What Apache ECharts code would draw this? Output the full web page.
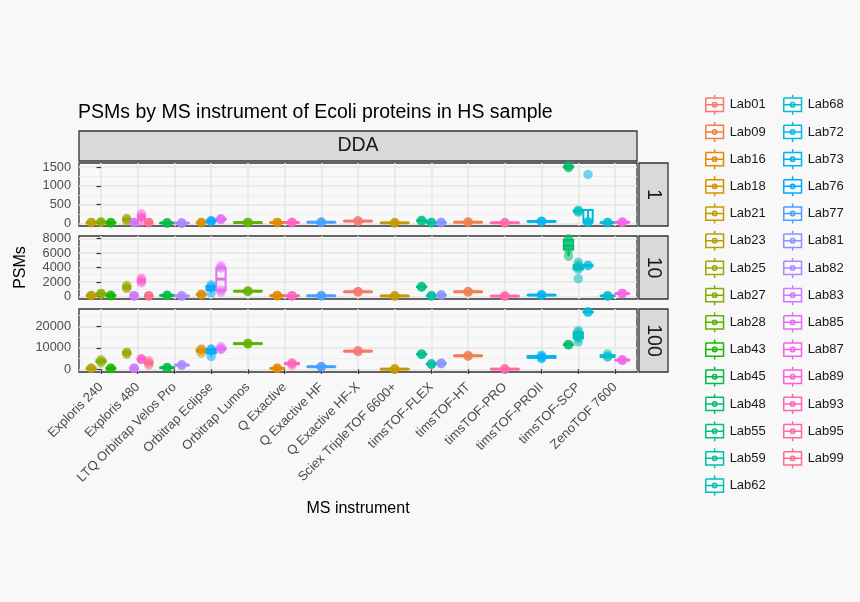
<!DOCTYPE html>
<html>
<head>
<meta charset="utf-8">
<script src="https://cdn.jsdelivr.net/npm/echarts@6/dist/echarts.min.js"></script>
<style>
    html, body {margin:0;padding:0;background:#f8f8f8;}
    #chart {width:860px;height:602px;}
</style>
</head>
<body>
<div id="chart"></div>
<script>
    // instruments on the x axis (discrete)
    var instruments = ['Exploris 240', 'Exploris 480', 'LTQ Orbitrap Velos Pro', 'Orbitrap Eclipse', 'Orbitrap Lumos',
        'Q Exactive', 'Q Exactive HF', 'Q Exactive HF-X', 'Sciex TripleTOF 6600+', 'timsTOF-FLEX',
        'timsTOF-HT', 'timsTOF-PRO', 'timsTOF-PROII', 'timsTOF-SCP', 'ZenoTOF 7600'];

    var labs = ['Lab01', 'Lab09', 'Lab16', 'Lab18', 'Lab21', 'Lab23', 'Lab25', 'Lab27', 'Lab28', 'Lab43',
        'Lab45', 'Lab48', 'Lab55', 'Lab59', 'Lab62', 'Lab68', 'Lab72', 'Lab73', 'Lab76', 'Lab77',
        'Lab81', 'Lab82', 'Lab83', 'Lab85', 'Lab87', 'Lab89', 'Lab93', 'Lab95', 'Lab99'];

    // index into instruments, one per lab
    var labInstrument = [7, 10, 5, 3, 8, 0, 1, 0, 4, 0,
        2, 13, 9, 9, 13, 14, 13, 12, 3, 6,
        9, 2, 1, 3, 14, 1, 5, 11, 1];

    // replicate PSM counts per lab, facet "1"
    var psms1 = [[55, 60, 65], [28, 30, 32], [18, 22, 25], [15, 20, 25], [10, 12, 15], [15, 20, 25], [60, 100, 130], [25, 30, 35], [18, 20, 22], [10, 15, 20],
        [8, 10, 12], [1480, 1500, 1530], [60, 70, 80], [15, 20, 25], [300, 330, 350], [15, 20, 25], [20, 30, 40, 1300], [45, 50, 55], [50, 60, 70], [25, 30, 35],
        [15, 20, 25], [5, 8, 10], [15, 20, 25], [100, 110, 120], [25, 30, 35], [30, 170, 250], [18, 22, 26], [10, 15, 20], [15, 20, 25]];

    // facet "10"
    var psms10 = [[640, 650, 660], [640, 650, 660], [110, 120, 130], [250, 270, 290], [70, 80, 90], [120, 140, 150], [1100, 1300, 1500], [330, 370, 400], [720, 730, 740], [120, 140, 160],
        [140, 150, 160], [5560, 6500, 7000, 7800, 7950], [1280, 1330, 1380], [90, 100, 110], [2450, 3750, 4000, 4300, 4700], [70, 80, 90], [4250, 4300], [190, 200, 210], [500, 1300, 1600], [90, 100, 110],
        [180, 200, 220], [70, 80, 90], [80, 100, 120], [600, 900, 3900, 4200], [390, 410, 430], [1900, 2200, 2500], [80, 100, 120], [50, 60, 70], [80, 100, 120]];

    // facet "100"
    var psms100 = [[8200, 8500, 8600], [6100, 6300, 6400], [400, 450, 500], [7500, 9000, 9500], [80, 100, 120], [400, 450, 500], [7000, 7700, 8000], [3000, 3800, 4500], [11800, 12000, 12100], [420, 450, 480],
        [700, 750, 800], [11400, 11500, 11600], [6950, 7070, 7150], [2350, 2450, 2550], [12800, 14500, 15500, 17200, 18000], [5800, 6000, 7200], [26600, 26800], [5000, 5500, 6000, 6600], [6000, 9000, 9500], [1150, 1200, 1250],
        [2650, 2750, 2850], [1900, 2000, 2100], [420, 460, 500], [9300, 9500, 10500], [4200, 4300, 4400], [4600, 4750, 4900], [2000, 2750, 3000], [80, 100, 120], [2000, 3000, 4000]];

    var facetNames = ['1', '10', '100'];
    var yMajor = [[0, 500, 1000, 1500], [0, 2000, 4000, 6000, 8000], [0, 10000, 20000]];
    var yMinor = [[250, 750, 1250], [1000, 3000, 5000, 7000], [5000, 15000, 25000]];

    var facetData = [psms1, psms10, psms100];

    // ggplot-like hue palette
    function hcl2hex(h, c, l) {
        var hr = h * Math.PI / 180;
        var U = c * Math.cos(hr), V = c * Math.sin(hr);
        var Xn = 95.047, Yn = 100.0, Zn = 108.883;
        var un = 4 * Xn / (Xn + 15 * Yn + 3 * Zn), vn = 9 * Yn / (Xn + 15 * Yn + 3 * Zn);
        var Y = l > 8 ? Yn * Math.pow((l + 16) / 116, 3) : Yn * l / 903.3;
        var u = U / (13 * l) + un, v = V / (13 * l) + vn;
        var X = 9 * Y * u / (4 * v);
        var Z = (9 * Y / v - X - 15 * Y) / 3;
        X /= 100; Y /= 100; Z /= 100;
        var rgb = [3.240479 * X - 1.537150 * Y - 0.498535 * Z,
            -0.969256 * X + 1.875992 * Y + 0.041556 * Z,
            0.055648 * X - 0.204043 * Y + 1.057311 * Z];
        return '#' + rgb.map(function (t) {
            t = t <= 0.0031308 ? 12.92 * t : 1.055 * Math.pow(t, 1 / 2.4) - 0.055;
            t = Math.round(Math.max(0, Math.min(1, t)) * 255);
            return (t < 16 ? '0' : '') + t.toString(16);
        }).join('');
    }
    var colors = labs.map(function (d, i) {
        return hcl2hex(15 + i * 360 / labs.length, 100, 65);
    });

    // dodge positions inside each instrument
    var dodgeWidth = 0.8;
    var xPos = [], slotW = [];
    instruments.forEach(function (name, ii) {
        var members = [];
        labInstrument.forEach(function (inst, li) { if (inst === ii) members.push(li); });
        var n = members.length;
        members.forEach(function (li, k) {
            slotW[li] = dodgeWidth / n;
            xPos[li] = ii - dodgeWidth / 2 + (k + 0.5) * dodgeWidth / n;
        });
    });

    function quantile(s, p) {
        var h = (s.length - 1) * p, lo = Math.floor(h);
        if (lo + 1 >= s.length) return s[lo];
        return s[lo] + (h - lo) * (s[lo + 1] - s[lo]);
    }
    function boxStats(vals) {
        var s = vals.slice().sort(function (a, b) { return a - b; });
        var q1 = quantile(s, 0.25), med = quantile(s, 0.5), q3 = quantile(s, 0.75);
        var iqr = q3 - q1;
        var lo = s.filter(function (v) { return v >= q1 - 1.5 * iqr; })[0];
        var hiArr = s.filter(function (v) { return v <= q3 + 1.5 * iqr; });
        return [lo, q1, med, q3, hiArr[hiArr.length - 1]];
    }

    // layout
    var plotLeft = 79, plotRight = 637;
    var gridTop = [163, 236, 309], gridH = 63;
    var font = 'Liberation Sans';

    var grids = [], xAxes = [], yAxes = [], series = [];
    var xTickVals = instruments.map(function (d, i) { return i; });

    facetNames.forEach(function (fname, f) {
        grids.push({left: plotLeft, right: 860 - plotRight, top: gridTop[f], height: gridH,
            show: true, borderColor: '#333333', borderWidth: 1.3, backgroundColor: 'transparent'});

        var last = f === facetNames.length - 1;
        xAxes.push({
            type: 'value', gridIndex: f, min: -0.6, max: instruments.length - 0.4,
            axisLine: {show: false},
            axisTick: {show: last, length: 4.5, customValues: xTickVals, lineStyle: {color: '#333333', width: 1.2}},
            axisLabel: {show: last, customValues: xTickVals, rotate: 45, margin: 13,
                fontSize: 13, fontFamily: font, color: '#4d4d4d',
                formatter: function (v) { return instruments[Math.round(v)]; }},
            splitLine: {show: true, lineStyle: {color: '#e6e6e6', width: 1.6}},
            name: last ? 'MS instrument' : '', nameLocation: 'middle', nameGap: 129,
            nameTextStyle: {fontSize: 16, fontFamily: font, color: '#000'}
        });

        var all = [];
        facetData[f].forEach(function (arr) { all = all.concat(arr); });
        var dmin = Math.min.apply(null, all), dmax = Math.max.apply(null, all);
        var pad = (dmax - dmin) * 0.05;

        yAxes.push({
            type: 'value', gridIndex: f, min: dmin - pad, max: dmax + pad,
            axisLine: {show: false},
            axisTick: {show: true, length: 4.5, customValues: yMajor[f], lineStyle: {color: '#333333', width: 1.2}},
            axisLabel: {customValues: yMajor[f], margin: 8, fontSize: 12.8, fontFamily: font,
                color: '#4d4d4d', formatter: function (v) { return String(v); }},
            splitLine: {show: true, lineStyle: {color: '#e6e6e6', width: 1.6}},
            name: f === 1 ? 'PSMs' : '', nameLocation: 'middle', nameGap: 50, nameRotate: 90,
            nameTextStyle: {fontSize: 16, fontFamily: font, color: '#000'}
        });
        yAxes.push({
            type: 'value', gridIndex: f, min: dmin - pad, max: dmax + pad, position: 'left',
            axisLine: {show: false},
            axisTick: {show: false, customValues: yMinor[f]},
            axisLabel: {show: false},
            splitLine: {show: true, lineStyle: {color: '#ededed', width: 0.9}}
        });

        labs.forEach(function (lab, li) {
            var vals = facetData[f][li];
            var st = boxStats(vals);
            var col = colors[li];
            series.push({
                name: lab, type: 'custom', xAxisIndex: f, yAxisIndex: 2 * f, z: 2,
                encode: {x: 0, y: [1, 2, 3, 4, 5]},
                data: [[xPos[li]].concat(st).concat([slotW[li] * 0.95])],
                itemStyle: {color: col},
                renderItem: function (params, api) {
                    var x = api.value(0);
                    var w = api.size([api.value(6), 0])[0];
                    var pLo = api.coord([x, api.value(1)]);
                    var pQ1 = api.coord([x, api.value(2)]);
                    var pMed = api.coord([x, api.value(3)]);
                    var pQ3 = api.coord([x, api.value(4)]);
                    var pHi = api.coord([x, api.value(5)]);
                    var ls = {stroke: col, lineWidth: 2, fill: 'none'};
                    return {type: 'group', children: [
                        {type: 'line', shape: {x1: pLo[0], y1: pLo[1], x2: pQ1[0], y2: pQ1[1]}, style: ls},
                        {type: 'line', shape: {x1: pQ3[0], y1: pQ3[1], x2: pHi[0], y2: pHi[1]}, style: ls},
                        {type: 'rect', shape: {x: pQ1[0] - w / 2, y: pQ3[1], width: w, height: pQ1[1] - pQ3[1]}, style: ls},
                        {type: 'line', shape: {x1: pMed[0] - w / 2, y1: pMed[1], x2: pMed[0] + w / 2, y2: pMed[1]},
                            style: {stroke: col, lineWidth: 3}}
                    ]};
                }
            });
            series.push({
                name: lab, type: 'scatter', xAxisIndex: f, yAxisIndex: 2 * f, z: 3,
                symbolSize: 9.5,
                itemStyle: {color: col, opacity: 0.55},
                data: vals.map(function (v) { return [xPos[li], v]; })
            });
        });
    });

    // legend key: box with whiskers, median and point
    var boxIcon = 'path://M10,0L10,3M2,3L18,3L18,15L2,15L2,3M2,9L18,9M10,15L10,18' +
        'M12,9A2,2,0,1,1,8,9A2,2,0,1,1,12,9';
    function legendItems(from, to) {
        return labs.slice(from, to).map(function (lab, k) {
            return {name: lab, icon: boxIcon,
                itemStyle: {color: 'rgba(0,0,0,0)', borderColor: colors[from + k], borderWidth: 1.5, opacity: 1}};
        });
    }
    var legendBase = {orient: 'vertical', top: 89, itemWidth: 20, itemHeight: 20, itemGap: 5.7,
        selectedMode: false,
        textStyle: {fontSize: 13, fontFamily: font, color: '#1a1a1a'}};

    // facet strips
    var stripStyle = {fill: '#d9d9d9', stroke: '#333333', lineWidth: 1.3};
    var stripText = {fontSize: 19.5, fontFamily: font, fill: '#1a1a1a'};
    var graphics = [
        {type: 'rect', shape: {x: plotLeft, y: 131, width: plotRight - plotLeft, height: 30}, style: stripStyle},
        {type: 'text', x: (plotLeft + plotRight) / 2, y: 146,
            style: Object.assign({text: 'DDA', align: 'center', verticalAlign: 'middle'}, stripText)}
    ];
    facetNames.forEach(function (fname, f) {
        graphics.push({type: 'rect', shape: {x: plotRight + 2, y: gridTop[f], width: 29, height: gridH}, style: stripStyle});
        graphics.push({type: 'text', x: plotRight + 16.5, y: gridTop[f] + gridH / 2, rotation: -Math.PI / 2,
            style: Object.assign({text: fname, align: 'center', verticalAlign: 'middle'}, stripText)});
    });

    var myChart = echarts.init(document.getElementById('chart'));
    myChart.setOption({
        backgroundColor: '#f8f8f8',
        animation: false,
        title: {
            text: 'PSMs by MS instrument of Ecoli proteins in HS sample',
            left: 73, top: 98,
            textStyle: {fontSize: 19.5, fontWeight: 'normal', fontFamily: font, color: '#000'}
        },
        legend: [
            Object.assign({left: 700, data: legendItems(0, 15)}, legendBase),
            Object.assign({left: 778, data: legendItems(15, 29)}, legendBase)
        ],
        grid: grids,
        xAxis: xAxes,
        yAxis: yAxes,
        graphic: graphics,
        series: series
    });
</script>
</body>
</html>
